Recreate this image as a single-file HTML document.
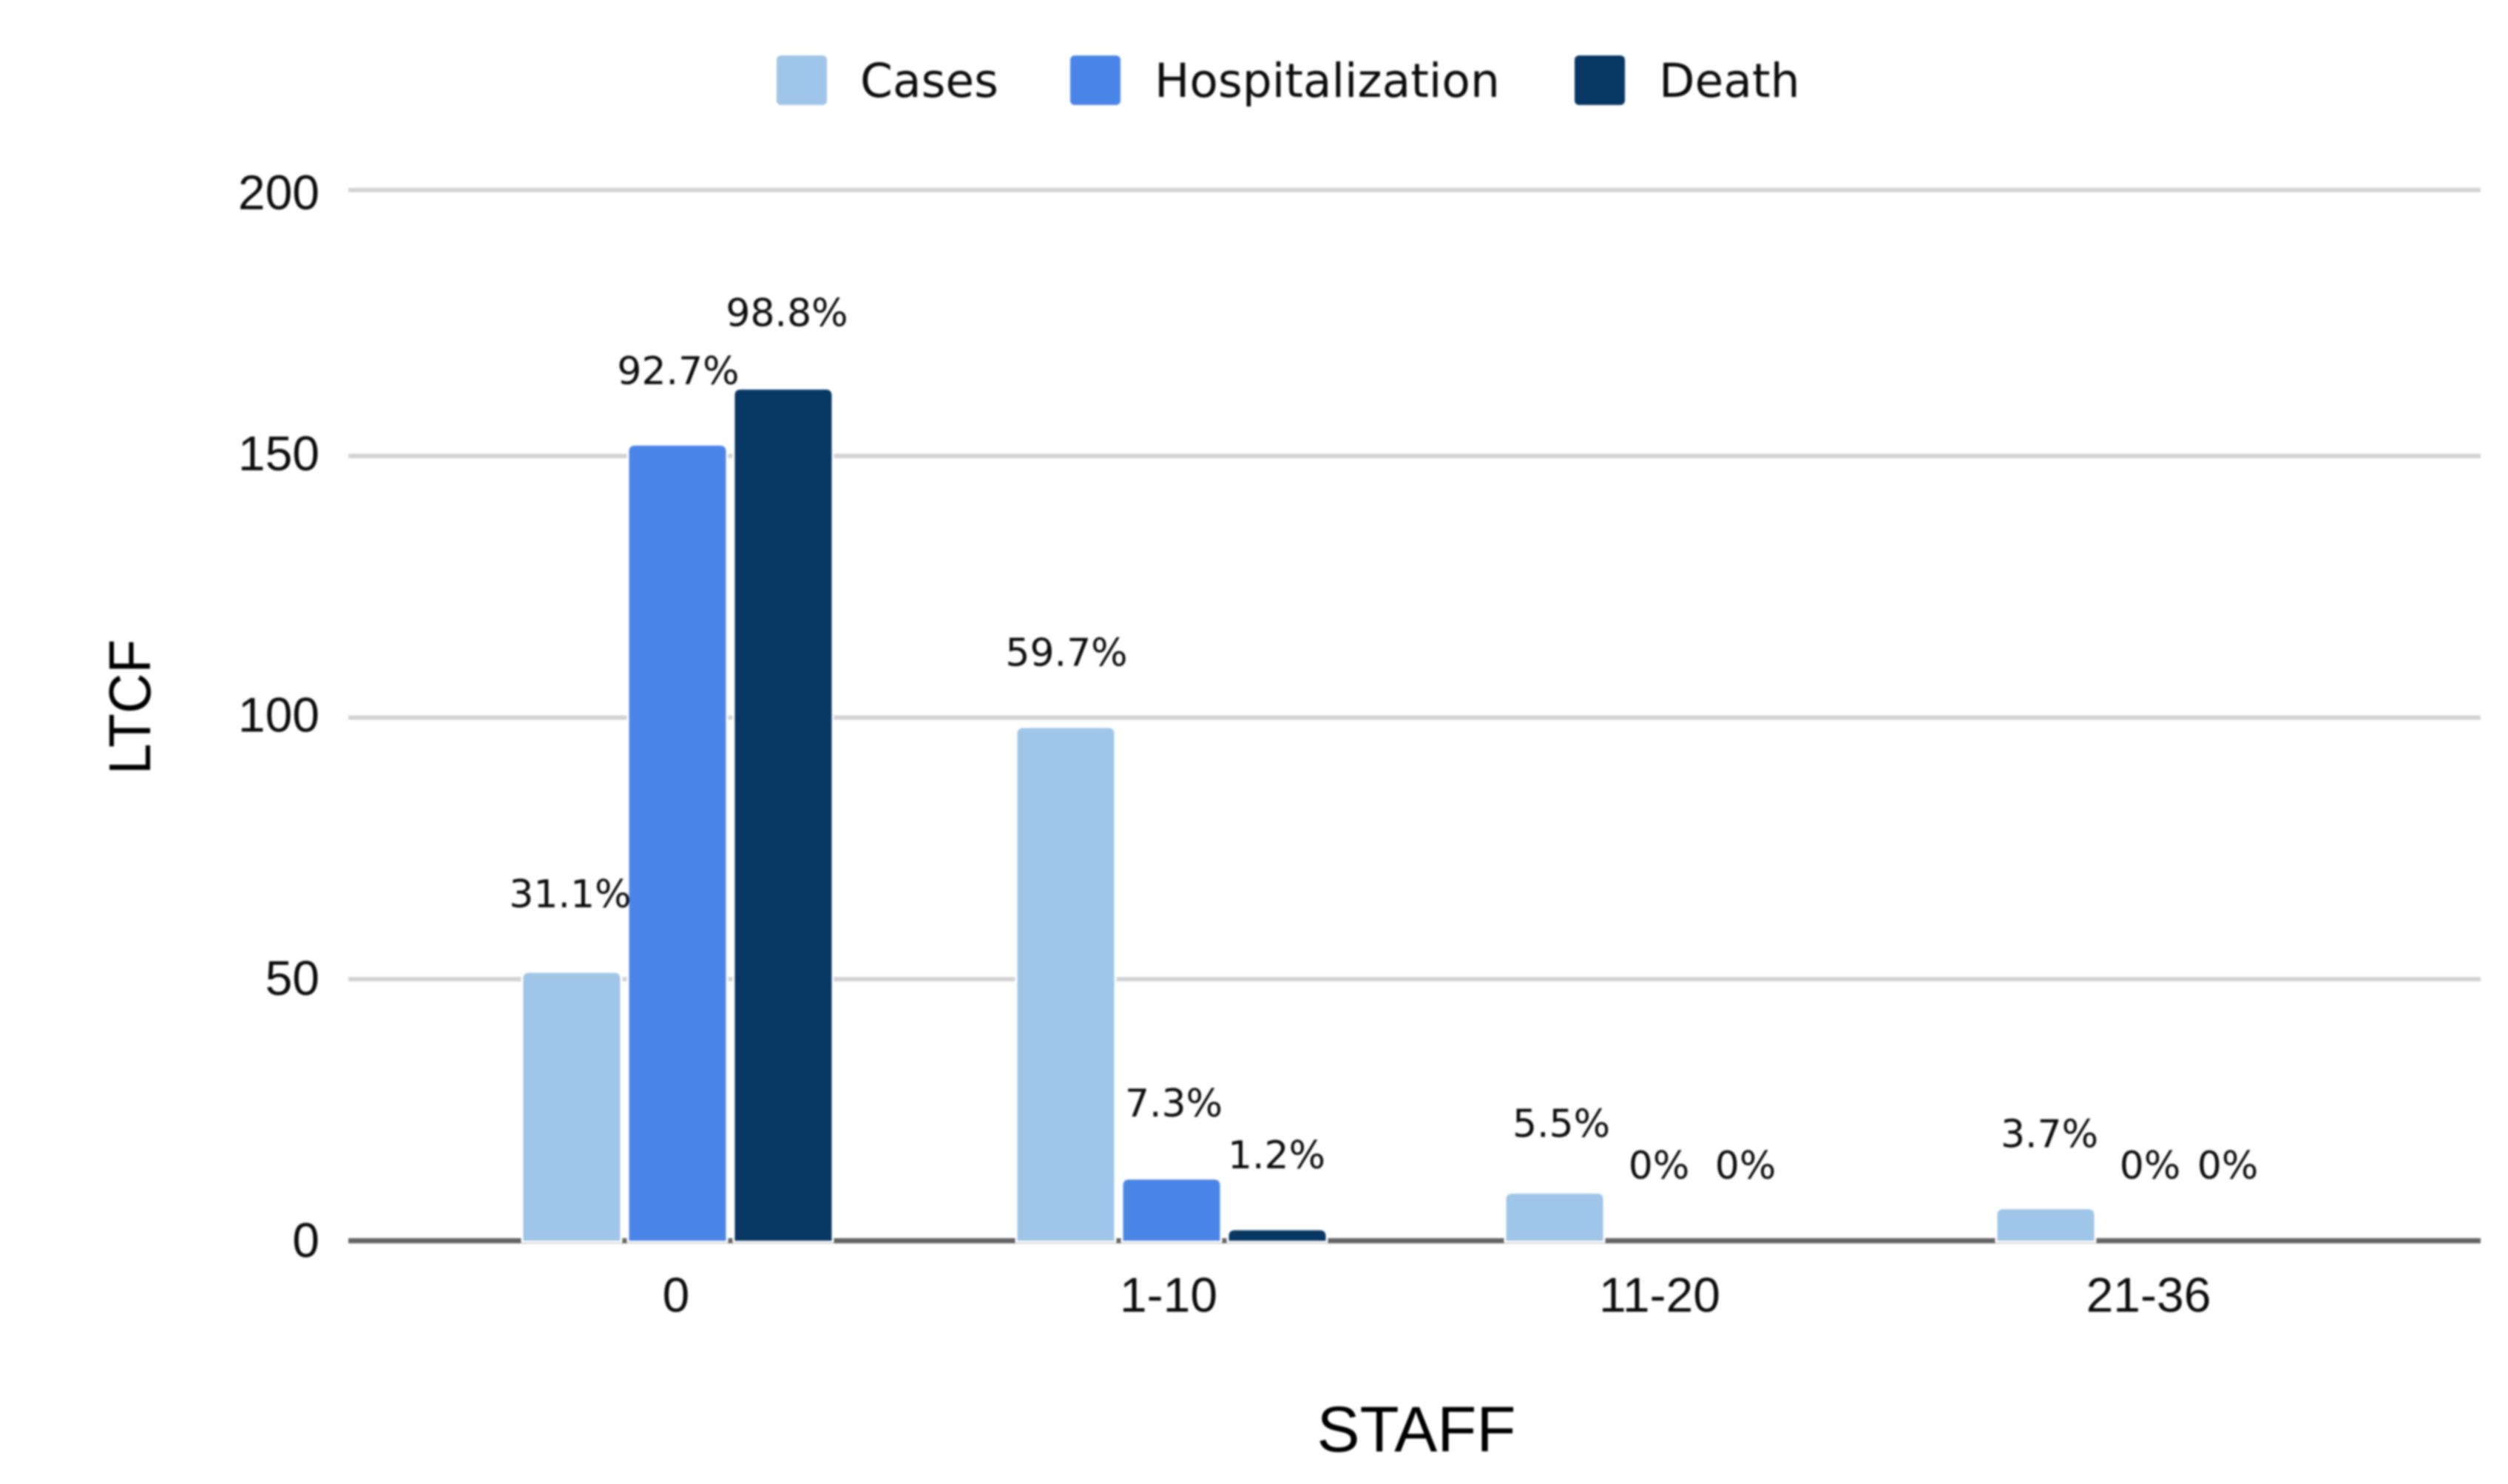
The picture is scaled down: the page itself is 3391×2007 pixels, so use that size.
<!DOCTYPE html>
<html lang="en">
<head>
<meta charset="utf-8">
<title>LTCF by staff</title>
<style>
html,body{margin:0;padding:0;background:#fff;}
svg{display:block;filter:blur(1.2px);}
.tick{font-family:"Liberation Sans",sans-serif;font-size:66px;fill:#0c0c0c;}
.val{font-family:"DejaVu Sans",sans-serif;font-size:52px;fill:#0c0c0c;}
.leg{font-family:"DejaVu Sans",sans-serif;font-size:63px;fill:#0c0c0c;}
.title{font-family:"Liberation Sans",sans-serif;fill:#000;}
</style>
</head>
<body>
<svg id="chart" xmlns="http://www.w3.org/2000/svg" width="3391" height="2007" viewBox="0 0 3391 2007">
  <rect x="0" y="0" width="3391" height="2007" fill="#ffffff"/>
  <g id="grid"></g>
  <g id="bars"></g>
  <g id="labels"></g>
  <g id="yticks"></g>
  <g id="xticks"></g>
  <g>
    <g>
      <rect x="1050" y="75" width="68" height="67" rx="6" fill="#9fc5e8"/>
      <text class="leg" x="1163" y="131">Cases</text>
    </g>
    <g>
      <rect x="1447" y="75" width="68" height="67" rx="6" fill="#4a86e8"/>
      <text class="leg" x="1561" y="131">Hospitalization</text>
    </g>
    <g>
      <rect x="2129" y="75" width="68" height="67" rx="6" fill="#073763"/>
      <text class="leg" x="2243" y="131">Death</text>
    </g>
  </g>
  <text class="title" x="1915" y="1963" text-anchor="middle" font-size="87">STAFF</text>
  <text class="title" transform="translate(203,956) rotate(-90)" text-anchor="middle" font-size="80" textLength="183" lengthAdjust="spacingAndGlyphs">LTCF</text>
</svg>
<script>
// Chart data
const categories = ['0', '1-10', '11-20', '21-36'];
const seriesNames = ['Cases', 'Hospitalization', 'Death'];
const casesValues = [51.2, 98, 9, 6];
const hospitalizationValues = [152, 11.7, 0, 0];
const deathValues = [162.7, 2, 0, 0];
const casesLabels = ['31.1%', '59.7%', '5.5%', '3.7%'];
const hospitalizationLabels = ['92.7%', '7.3%', '0%', '0%'];
const deathLabels = ['98.8%', '1.2%', '0%', '0%'];
const yTicks = [0, 50, 100, 150, 200];

// Layout and scales
const NS = 'http://www.w3.org/2000/svg';
const plotLeft = 471, plotRight = 3354, zeroY = 1678, unitY = 7.075;
const groupStart = 917, groupStep = 664, barStep = 143, barWidth = 131, radius = 8;
const seriesColors = ['#9fc5e8', '#4a86e8', '#073763'];
const allValues = [casesValues, hospitalizationValues, deathValues];
const allLabels = [casesLabels, hospitalizationLabels, deathLabels];
// Hand-placed nudges copying small offsets in the source figure
const groupNudge = [-1, 3, 0, 0];
const xTickNudge = [-2, 0, 0, -3];
const gridNudge = [0, 0, 0, 0, -6];
const yTickNudge = [0, -1, -3, -3, 4];
const labelNudgeX = [[-2, 1, 9, 5], [1, 3, -2, -2], [5, -1, -28, -40]];
const labelNudgeY = [[-89, -84, -77, -84], [-83, -85, -84, -84], [-86, -84, -84, -84]];

function y(v) { return zeroY - v * unitY; }
function groupX(i) { return groupStart + groupStep * i; }
function barCenter(i, s) { return groupX(i) + groupNudge[i] + (s - 1) * barStep; }
function make(tag, parent) {
  const el = document.createElementNS(NS, tag);
  document.getElementById(parent).appendChild(el);
  return el;
}

yTicks.forEach(function (t, k) {
  const line = make('rect', 'grid');
  
  
  const h = t === 0 ? 7 : 6;
  line.setAttribute('x', plotLeft);
  line.setAttribute('y', y(t) + gridNudge[k] - h / 2);
  line.setAttribute('width', plotRight - plotLeft);
  line.setAttribute('height', h);
  line.setAttribute('fill', t === 0 ? '#666666' : '#d3d3d3');

  const label = make('text', 'yticks');
  
  
  label.setAttribute('class', 'tick');
  label.setAttribute('x', 432);
  label.setAttribute('y', y(t) + 22 + yTickNudge[k] + gridNudge[k]);
  label.setAttribute('text-anchor', 'end');
  label.textContent = String(t);
});

categories.forEach(function (c, i) {
  const label = make('text', 'xticks');
  
  
  label.setAttribute('class', 'tick');
  label.setAttribute('x', groupX(i) - 1 + xTickNudge[i]);
  label.setAttribute('y', 1774);
  label.setAttribute('text-anchor', 'middle');
  label.textContent = c;
});

allValues.forEach(function (vals, s) {
  vals.forEach(function (v, i) {
    const cx = barCenter(i, s);
    const top = y(v);
    if (v > 0) {
      const bar = make('path', 'bars');
      
      
      const l = cx - barWidth / 2, r = cx + barWidth / 2;
      const rr = Math.min(radius, (zeroY - top));
      bar.setAttribute('d', 'M' + l + ' ' + zeroY + 'V' + (top + rr) + 'Q' + l + ' ' + top + ' ' + (l + rr) + ' ' + top +
        'H' + (r - rr) + 'Q' + r + ' ' + top + ' ' + r + ' ' + (top + rr) + 'V' + zeroY + 'Z');
      bar.setAttribute('fill', seriesColors[s]);
      bar.setAttribute('stroke', '#ffffff');
      bar.setAttribute('stroke-width', '6');
      bar.setAttribute('paint-order', 'stroke');
    }
    const label = make('text', 'labels');
    
    
    label.setAttribute('class', 'val');
    label.setAttribute('x', cx + labelNudgeX[s][i]);
    label.setAttribute('y', top + labelNudgeY[s][i]);
    label.setAttribute('text-anchor', 'middle');
    label.textContent = allLabels[s][i];
  });
});
</script>
</body>
</html>
